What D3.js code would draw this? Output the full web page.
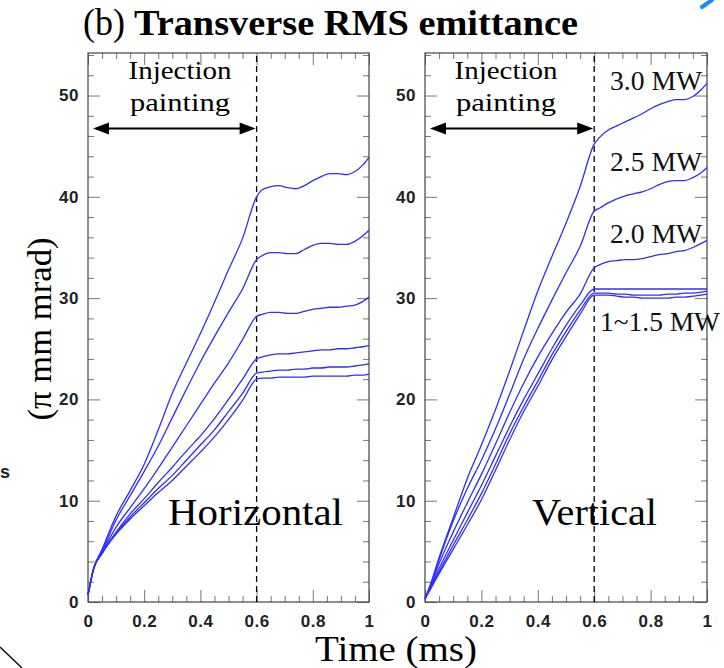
<!DOCTYPE html>
<html><head><meta charset="utf-8">
<script src="https://cdn.jsdelivr.net/npm/d3@7"></script>
<style>body{margin:0;background:#fff} svg{display:block}</style>
</head><body>
<svg id="c" width="724" height="668"></svg>
<script>
// ---- data ----
const time = [0,0.02,0.05,0.1,0.15,0.2,0.25,0.3,0.35,0.4,0.45,0.5,0.55,0.6,
              0.62,0.65,0.68,0.71,0.74,0.77,0.8,0.83,0.86,0.89,0.92,0.95,0.98,1.0];
// Horizontal emittance (pi mm mrad)
const h1 = [0.7,3.3,5.2,8.5,11.0,13.6,17.0,20.6,23.6,26.5,29.6,32.8,35.9,40.0, 40.7,41.0,41.1,40.9,40.8,41.1,41.6,42.0,42.3,42.3,42.2,42.5,43.2,43.9];
const h2 = [0.7,3.3,5.0,8.1,10.5,12.9,15.4,18.2,21.0,23.7,26.2,28.6,30.9,33.8, 34.2,34.5,34.5,34.4,34.4,34.8,35.2,35.4,35.4,35.3,35.3,35.6,36.2,36.7];
const h3 = [0.7,3.3,4.9,7.4,9.3,11.2,13.2,15.3,17.4,19.5,21.6,23.6,25.9,28.2, 28.4,28.6,28.6,28.5,28.5,28.7,28.9,29.0,29.1,29.1,29.2,29.3,29.7,30.1];
const h4 = [0.7,3.3,4.8,6.9,8.7,10.2,11.8,13.3,14.9,16.4,18.1,20.0,22.0,24.0, 24.2,24.4,24.5,24.5,24.6,24.7,24.8,24.9,24.9,25.0,25.0,25.1,25.2,25.3];
const h5 = [0.7,3.3,4.8,6.8,8.4,9.8,11.2,12.5,14.0,15.5,17.0,18.8,20.6,22.6, 22.7,22.8,22.9,22.9,23.0,23.0,23.1,23.1,23.2,23.2,23.2,23.3,23.4,23.5];
const h6 = [0.7,3.3,4.8,6.7,8.2,9.5,10.8,12.0,13.4,14.8,16.3,18.0,19.9,22.0, 22.1,22.1,22.2,22.2,22.2,22.2,22.3,22.3,22.3,22.3,22.3,22.4,22.4,22.5];
// Vertical emittance (pi mm mrad)
const v1 = [0.3,1.8,4.4,8.3,12.2,15.5,19.0,22.8,26.8,30.7,34.1,37.4,41.0,45.2, 45.9,46.6,47.0,47.4,47.8,48.2,48.7,49.1,49.4,49.6,49.6,49.9,50.6,51.2];
const v2 = [0.3,1.7,4.2,8.0,11.2,14.0,17.1,20.5,24.0,27.0,29.8,32.5,35.1,38.6, 38.9,39.4,39.8,40.1,40.3,40.5,40.8,41.2,41.5,41.6,41.6,41.9,42.4,42.9];
const v3 = [0.3,1.6,3.8,6.9,9.8,12.6,15.6,18.7,21.6,24.2,26.5,28.6,30.4,33.0, 33.3,33.6,33.7,33.8,33.8,33.9,34.1,34.3,34.4,34.6,34.7,35.0,35.4,35.7];
const v4 = [0.3,1.5,3.3,6.1,8.8,11.5,14.4,17.3,20.0,22.5,25.0,27.3,29.3,30.9, 30.9,30.9,30.9,30.9,30.9,30.9,30.9,30.9,30.9,30.9,30.9,30.9,30.9,30.9];
const v5 = [0.3,1.4,3.0,5.6,8.1,10.7,13.6,16.6,19.3,21.8,24.4,26.7,28.8,30.5, 30.5,30.5,30.4,30.4,30.3,30.3,30.3,30.3,30.4,30.4,30.5,30.5,30.6,30.7];
const v6 = [0.3,1.3,2.8,5.2,7.6,10.1,13.0,16.0,18.8,21.3,23.9,26.2,28.4,30.3, 30.3,30.3,30.2,30.1,30.1,30.0,30.0,30.0,30.0,30.1,30.1,30.2,30.3,30.4];

const horizontalSeries = [h1,h2,h3,h4,h5,h6];
const verticalSeries = [v1,v2,v3,v4,v5,v6];
const powerLabels = ["3.0 MW","2.5 MW","2.0 MW","1~1.5 MW"];
const xTicks = [0,0.2,0.4,0.6,0.8,1];
const xTickLabels = ["0","0.2","0.4","0.6","0.8","1"];
const yTicks = [0,10,20,30,40,50];
const yTickLabels = ["0","10","20","30","40","50"];
const paintingEnd = 0.6;

// ---- drawing ----
const svg = d3.select("#c");
const Y0 = 602, Y1 = 53;
const y = d3.scaleLinear().domain([0,54.2]).range([Y0,Y1]);
const blue = "#2e2eff";
const serif = "'Liberation Serif', 'Times New Roman', serif";
const sans = "'Liberation Sans', Arial, sans-serif";

function panel(x0, x1, series, name, nameX, nameLen, injX) {
  const x = d3.scaleLinear().domain([0,1]).range([x0,x1]);
  const g = svg.append("g");
  const minorX = d3.range(0,1.0001,0.05).filter(v => Math.abs(v*5-Math.round(v*5))>1e-6);
  const minorY = d3.range(0,54.1,2).filter(v => v%10!==0);

  const ax = (axis, tx, ty) => {
    const a = g.append("g").attr("transform",`translate(${tx},${ty})`).call(axis);
    a.select(".domain").remove();
    a.selectAll(".tick line").attr("stroke","#777").attr("stroke-width",1);
    return a;
  };
  const xb = ax(d3.axisBottom(x).tickValues(xTicks).tickFormat((d,i)=>xTickLabels[i]).tickSizeInner(-12).tickSizeOuter(0).tickPadding(13), 0, Y0);
  xb.selectAll("text").attr("font-family",sans).attr("font-weight","bold").attr("font-size",17).attr("fill","#222").attr("letter-spacing","0.5px");
  ax(d3.axisBottom(x).tickValues(minorX).tickFormat("").tickSizeInner(-6).tickSizeOuter(0), 0, Y0);
  ax(d3.axisTop(x).tickValues(xTicks).tickFormat("").tickSizeInner(-12).tickSizeOuter(0), 0, Y1);
  ax(d3.axisTop(x).tickValues(minorX).tickFormat("").tickSizeInner(-6).tickSizeOuter(0), 0, Y1);
  const yl = ax(d3.axisLeft(y).tickValues(yTicks).tickFormat((d,i)=>yTickLabels[i]).tickSizeInner(-12).tickSizeOuter(0).tickPadding(9), x0, 0);
  yl.selectAll("text").attr("font-family",sans).attr("font-weight","bold").attr("font-size",17).attr("fill","#222").attr("letter-spacing","0.5px");
  ax(d3.axisLeft(y).tickValues(minorY).tickFormat("").tickSizeInner(-6).tickSizeOuter(0), x0, 0);
  ax(d3.axisRight(y).tickValues(yTicks).tickFormat("").tickSizeInner(-12).tickSizeOuter(0), x1, 0);
  ax(d3.axisRight(y).tickValues(minorY).tickFormat("").tickSizeInner(-6).tickSizeOuter(0), x1, 0);

  g.append("rect").attr("x",x0).attr("y",Y1).attr("width",x1-x0).attr("height",Y0-Y1)
    .attr("fill","none").attr("stroke","#444").attr("stroke-width",1.2);

  g.append("line").attr("x1",x(paintingEnd)).attr("x2",x(paintingEnd)).attr("y1",Y1+3).attr("y2",Y0)
    .attr("stroke","#000").attr("stroke-width",1.3).attr("stroke-dasharray","6,4");

  const line = d3.line().x((d,i)=>x(time[i])).y(d=>y(d)).curve(d3.curveMonotoneX);
  g.selectAll("path.s").data(series).join("path").attr("class","s")
    .attr("d",line).attr("fill","none").attr("stroke",blue).attr("stroke-width",1.3);

  const ay = 128.5, ax0 = x(0)+5, ax1 = x(paintingEnd)-1;
  g.append("line").attr("x1",ax0+10).attr("x2",ax1-10).attr("y1",ay).attr("y2",ay).attr("stroke","#000").attr("stroke-width",2.2);
  g.append("path").attr("d",`M${ax0},${ay} L${ax0+16},${ay-6} L${ax0+16},${ay+6} Z`).attr("fill","#000");
  g.append("path").attr("d",`M${ax1},${ay} L${ax1-16},${ay-6} L${ax1-16},${ay+6} Z`).attr("fill","#000");

  g.append("text").attr("x",injX).attr("y",79).attr("text-anchor","middle").attr("font-family",serif)
    .attr("font-size",25).attr("textLength",103).attr("lengthAdjust","spacingAndGlyphs").text("Injection");
  g.append("text").attr("x",injX).attr("y",111).attr("text-anchor","middle").attr("font-family",serif)
    .attr("font-size",25).attr("textLength",100).attr("lengthAdjust","spacingAndGlyphs").text("painting");

  g.append("text").attr("x",nameX).attr("y",525).attr("font-family",serif)
    .attr("font-size",37).attr("textLength",nameLen).attr("lengthAdjust","spacingAndGlyphs").text(name);
  return x;
}

panel(88, 369, horizontalSeries, "Horizontal", 168, 175, 180);
panel(425, 707, verticalSeries, "Vertical", 532, 125, 506);

const plX = [610, 610, 610, 600];
const plBase = [90, 171, 243, 331];
const plLen = [92, 92, 92, 120];
powerLabels.forEach((t,i) => {
  svg.append("text").attr("x",plX[i]).attr("y",plBase[i]).attr("font-family",serif).attr("font-size",27)
    .attr("textLength",plLen[i]).attr("lengthAdjust","spacingAndGlyphs").attr("fill","#111").text(t);
});

svg.append("text").attr("x",83).attr("y",35).attr("font-family",serif).attr("font-size",37)
  .attr("textLength",42).attr("lengthAdjust","spacingAndGlyphs").text("(b)");
svg.append("text").attr("x",134).attr("y",35).attr("font-family",serif).attr("font-weight","bold").attr("font-size",35)
  .attr("textLength",444).attr("lengthAdjust","spacingAndGlyphs").text("Transverse RMS emittance");

svg.append("text").attr("transform","translate(51,329) rotate(-90)").attr("text-anchor","middle")
  .attr("font-family",serif).attr("font-size",33).attr("textLength",183).attr("lengthAdjust","spacingAndGlyphs").text("(π mm mrad)");
svg.append("text").attr("x",396).attr("y",661).attr("text-anchor","middle").attr("font-family",serif)
  .attr("font-size",35).attr("textLength",162).attr("lengthAdjust","spacingAndGlyphs").text("Time (ms)");

// fragments of the neighbouring figure at the image edges
svg.append("text").attr("x",0).attr("y",478).attr("font-family",sans).attr("font-weight","bold").attr("font-size",18).attr("fill","#222").text("s");
svg.append("line").attr("x1",0).attr("y1",647).attr("x2",22).attr("y2",668).attr("stroke","#111").attr("stroke-width",1.5);
svg.append("line").attr("x1",702).attr("y1",7).attr("x2",712).attr("y2",0).attr("stroke","#1a8cff").attr("stroke-width",4).attr("stroke-linecap","round");
</script>
</body></html>
